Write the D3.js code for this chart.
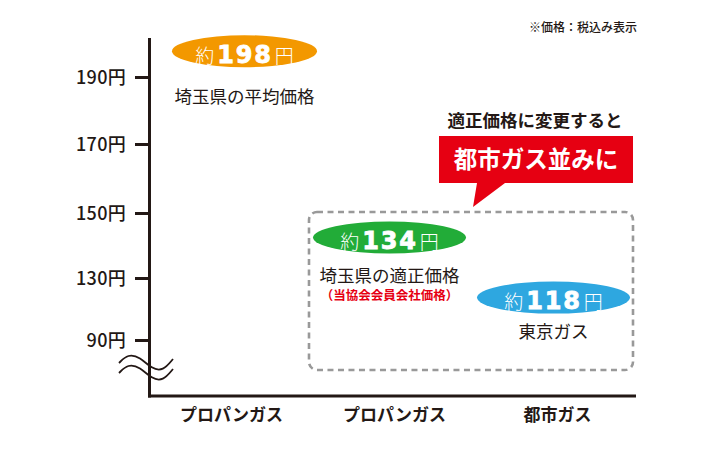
<!DOCTYPE html>
<html><head><meta charset="utf-8">
<script src="https://cdn.jsdelivr.net/npm/d3@7"></script>
<style>
html,body{margin:0;padding:0;background:#fff;}
svg{display:block;font-family:"Noto Sans CJK JP","Noto Sans",sans-serif;}
</style></head><body>
<svg id="c" width="720" height="451"></svg>
<script>
// ---- data ----
const categories = ["プロパンガス", "プロパンガス", "都市ガス"];
const priceValues = [198, 134, 118];
const priceNames = ["埼玉県の平均価格", "埼玉県の適正価格", "東京ガス"];
const priceNotes = ["", "（当協会会員会社価格）", ""];
const tickValues = [90, 130, 150, 170, 190];
const unitLabel = "円";
const prefixLabel = "約";
const noteText = "※価格：税込み表示";
const calloutLead = "適正価格に変更すると";
const calloutText = "都市ガス並みに";

// ---- style ----
const ink = "#231815";
const bubbleColors = ["#f39800", "#22ac38", "#2ea7e0"];
const red = "#e60012";

const svg = d3.select("#c");
const x = d3.scaleBand().domain(d3.range(categories.length)).range([150, 639]);
// broken axis: piecewise linear scale
const y = d3.scaleLinear().domain([90, 130, 150, 170, 190]).range([340, 278, 213, 144, 77]);
const axisBottom = 396, axisTop = 38;

// dashed group box (items 1..2)
const boxL = x(1) - 4, boxR = x(2) + x.bandwidth() - 6, boxT = y(150) - 1, boxB = y(90) + 30;
svg.append("rect").attr("x", boxL).attr("y", boxT).attr("width", boxR - boxL).attr("height", boxB - boxT)
  .attr("rx", 8).attr("fill", "none").attr("stroke", "#999").attr("stroke-width", 2.6)
  .attr("stroke-dasharray", "6,4.5");

// y axis
const yAxis = d3.axisLeft(y).tickValues(tickValues).tickSize(14).tickPadding(9)
  .tickFormat(d => d + unitLabel);
const gy = svg.append("g").attr("transform", "translate(149,0)").call(yAxis);
gy.select(".domain").remove();
gy.selectAll(".tick line").attr("stroke", ink).attr("stroke-width", 3);
gy.selectAll(".tick text").attr("fill", ink).attr("font-size", 18).attr("font-weight", 500)
  .attr("dy", "0.36em").attr("letter-spacing", 0.3).style("font-family", "'Noto Sans CJK JP'");

// axis lines
svg.append("line").attr("x1", 149.5).attr("x2", 149.5).attr("y1", axisTop).attr("y2", axisBottom + 1.5)
  .attr("stroke", ink).attr("stroke-width", 3);
svg.append("line").attr("x1", 148).attr("x2", x.range()[1] - 3).attr("y1", axisBottom).attr("y2", axisBottom)
  .attr("stroke", ink).attr("stroke-width", 3);

// break symbol
const wave = d3.line().curve(d3.curveBasis);
[0, 10].forEach(off => {
  const b = y(90) + 23 + off;
  svg.append("path")
    .attr("d", wave([[119, b], [128, b - 9], [140, b - 6], [152, b + 6], [163, b + 8], [173, b - 4]]))
    .attr("fill", "none").attr("stroke", ink).attr("stroke-width", 1.8);
});

// x category labels
svg.append("g").selectAll("text").data(categories).join("text")
  .attr("x", (d, i) => x(i) + x.bandwidth() / 2).attr("y", axisBottom + 25)
  .attr("text-anchor", "middle").attr("font-size", 17).attr("font-weight", 700).attr("fill", ink)
  .text(d => d);

// price bubbles
const shiftX = [13, -5, -4];
const shiftY = [1, -27.5, 1];
const nameDy = [52, 44, 40.5];
const g = svg.append("g").selectAll("g").data(priceValues).join("g")
  .attr("transform", (d, i) => `translate(${x(i) + x.bandwidth() / 2 + shiftX[i]},${y(d) + shiftY[i]})`);
g.append("ellipse").attr("rx", (d, i) => i === 0 ? 72.5 : 76.5).attr("ry", 16)
  .attr("fill", (d, i) => bubbleColors[i]);
const t = g.append("text").attr("text-anchor", "middle").attr("y", 11.5).attr("fill", "#fff");
t.append("tspan").attr("font-size", 19).attr("font-weight", 300).text(prefixLabel);
t.append("tspan").attr("font-size", 24).attr("font-weight", 700).attr("dx", 3)
  .attr("stroke", "#fff").attr("stroke-width", 0.8)
  .style("font-family", "'DejaVu Sans'").attr("letter-spacing", 1.8).text(d => d);
t.append("tspan").attr("font-size", 19).attr("font-weight", 300).attr("dx", 2).text(unitLabel);
g.append("text").attr("text-anchor", "middle").attr("y", (d, i) => nameDy[i])
  .attr("font-size", 17.5).attr("fill", ink).text((d, i) => priceNames[i]);
g.append("text").attr("text-anchor", "middle").attr("y", (d, i) => nameDy[i] + 18.5)
  .attr("font-size", 12.5).attr("font-weight", 700).attr("fill", red).text((d, i) => priceNotes[i]);

// callout
const cL = 439, cR = boxR, cT = 136, cB = 183;
svg.append("path")
  .attr("d", `M${cL},${cT}H${cR}V${cB}H${cL + 66}L${cL + 34},${boxT - 5}L${cL + 38},${cB}H${cL}Z`)
  .attr("fill", red);
svg.append("text").attr("x", (cL + cR) / 2).attr("y", cB - 15).attr("text-anchor", "middle")
  .attr("font-size", 23.5).attr("font-weight", 700).attr("fill", "#fff").text(calloutText);
svg.append("text").attr("x", (cL + cR) / 2 - 1).attr("y", cT - 9).attr("text-anchor", "middle")
  .attr("font-size", 17.5).attr("font-weight", 700).attr("fill", ink).text(calloutLead);
svg.append("text").attr("x", 637).attr("y", 32).attr("text-anchor", "end")
  .attr("font-size", 12).attr("font-weight", 500).attr("fill", ink).text(noteText);
</script>
</body></html>
